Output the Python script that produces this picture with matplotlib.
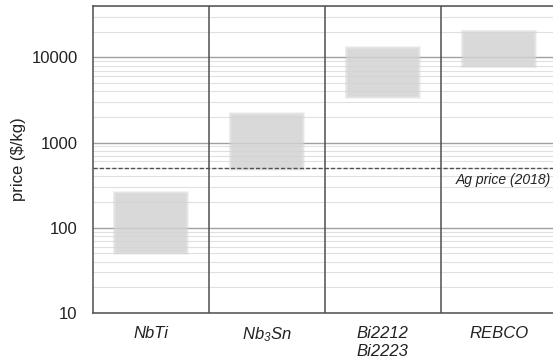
import numpy as np
import matplotlib
matplotlib.use('Agg')
import matplotlib.pyplot as plt

plt.rcParams['font.family'] = ['Liberation Sans', 'DejaVu Sans']
plt.rcParams['mathtext.fontset'] = 'custom'
plt.rcParams['mathtext.it'] = 'Liberation Sans:italic'
plt.rcParams['mathtext.rm'] = 'Liberation Sans:italic'

# price ranges in $/kg
categories = ['NbTi', r'$Nb_3Sn$', 'Bi2212\nBi2223', 'REBCO']
price_low = [52, 500, 3500, 8000]
price_high = [250, 2100, 12500, 19500]
ag_price = 500

fig = plt.figure(figsize=(5.53, 3.64), dpi=100)
ax = fig.add_axes([0.168, 0.140, 0.839, 0.8435])

x = np.arange(len(categories))
w = 0.6

# soft-edged grey boxes
for i in range(len(categories)):
    lo, hi = price_low[i], price_high[i]
    for k in range(6):
        dx = 0.006 * (5 - k)
        f = 1.0 + 0.015 * (5 - k)
        ax.bar(x[i], hi * f - lo / f, width=w + 2 * dx, bottom=lo / f,
               color='#d4d4d4', alpha=0.25, linewidth=0, zorder=2)

ax.set_yscale('log')
ax.set_ylim(10, 40000)
ax.set_xlim(-0.5, 3.5)

ax.grid(True, which='major', axis='y', color='#a0a0a0', linewidth=1.0, zorder=1)
ax.grid(True, which='minor', axis='y', color='#e0e0e0', linewidth=0.8, zorder=1)
ax.set_axisbelow(True)

for sep in [0.5, 1.5, 2.5]:
    ax.axvline(sep, color='#505050', linewidth=1.1, zorder=3)

ax.axhline(ag_price, color='#505050', linewidth=1.0, linestyle=(0, (3, 1.5)), zorder=4)
ax.text(3.45, ag_price * 0.88, 'Ag price (2018)', style='italic', fontsize=10,
        ha='right', va='top', color='#222222', zorder=5)

ax.set_yticks([10, 100, 1000, 10000])
ax.set_yticklabels(['10', '100', '1000', '10000'], fontsize=12, color='#222222')
ax.tick_params(axis='y', which='both', length=0, pad=11)
ax.set_xticks(x)
ax.set_xticklabels(categories, fontsize=12, style='italic', color='#222222',
                   linespacing=1.3)
ax.tick_params(axis='x', length=0, pad=9)
ax.set_ylabel('price ($/kg)', fontsize=12, color='#222222', labelpad=4)

for s in ['left', 'bottom', 'top']:
    ax.spines[s].set_color('#505050')
    ax.spines[s].set_linewidth(1.1)
ax.spines['right'].set_visible(False)

fig.savefig('out.png', dpi=100)
